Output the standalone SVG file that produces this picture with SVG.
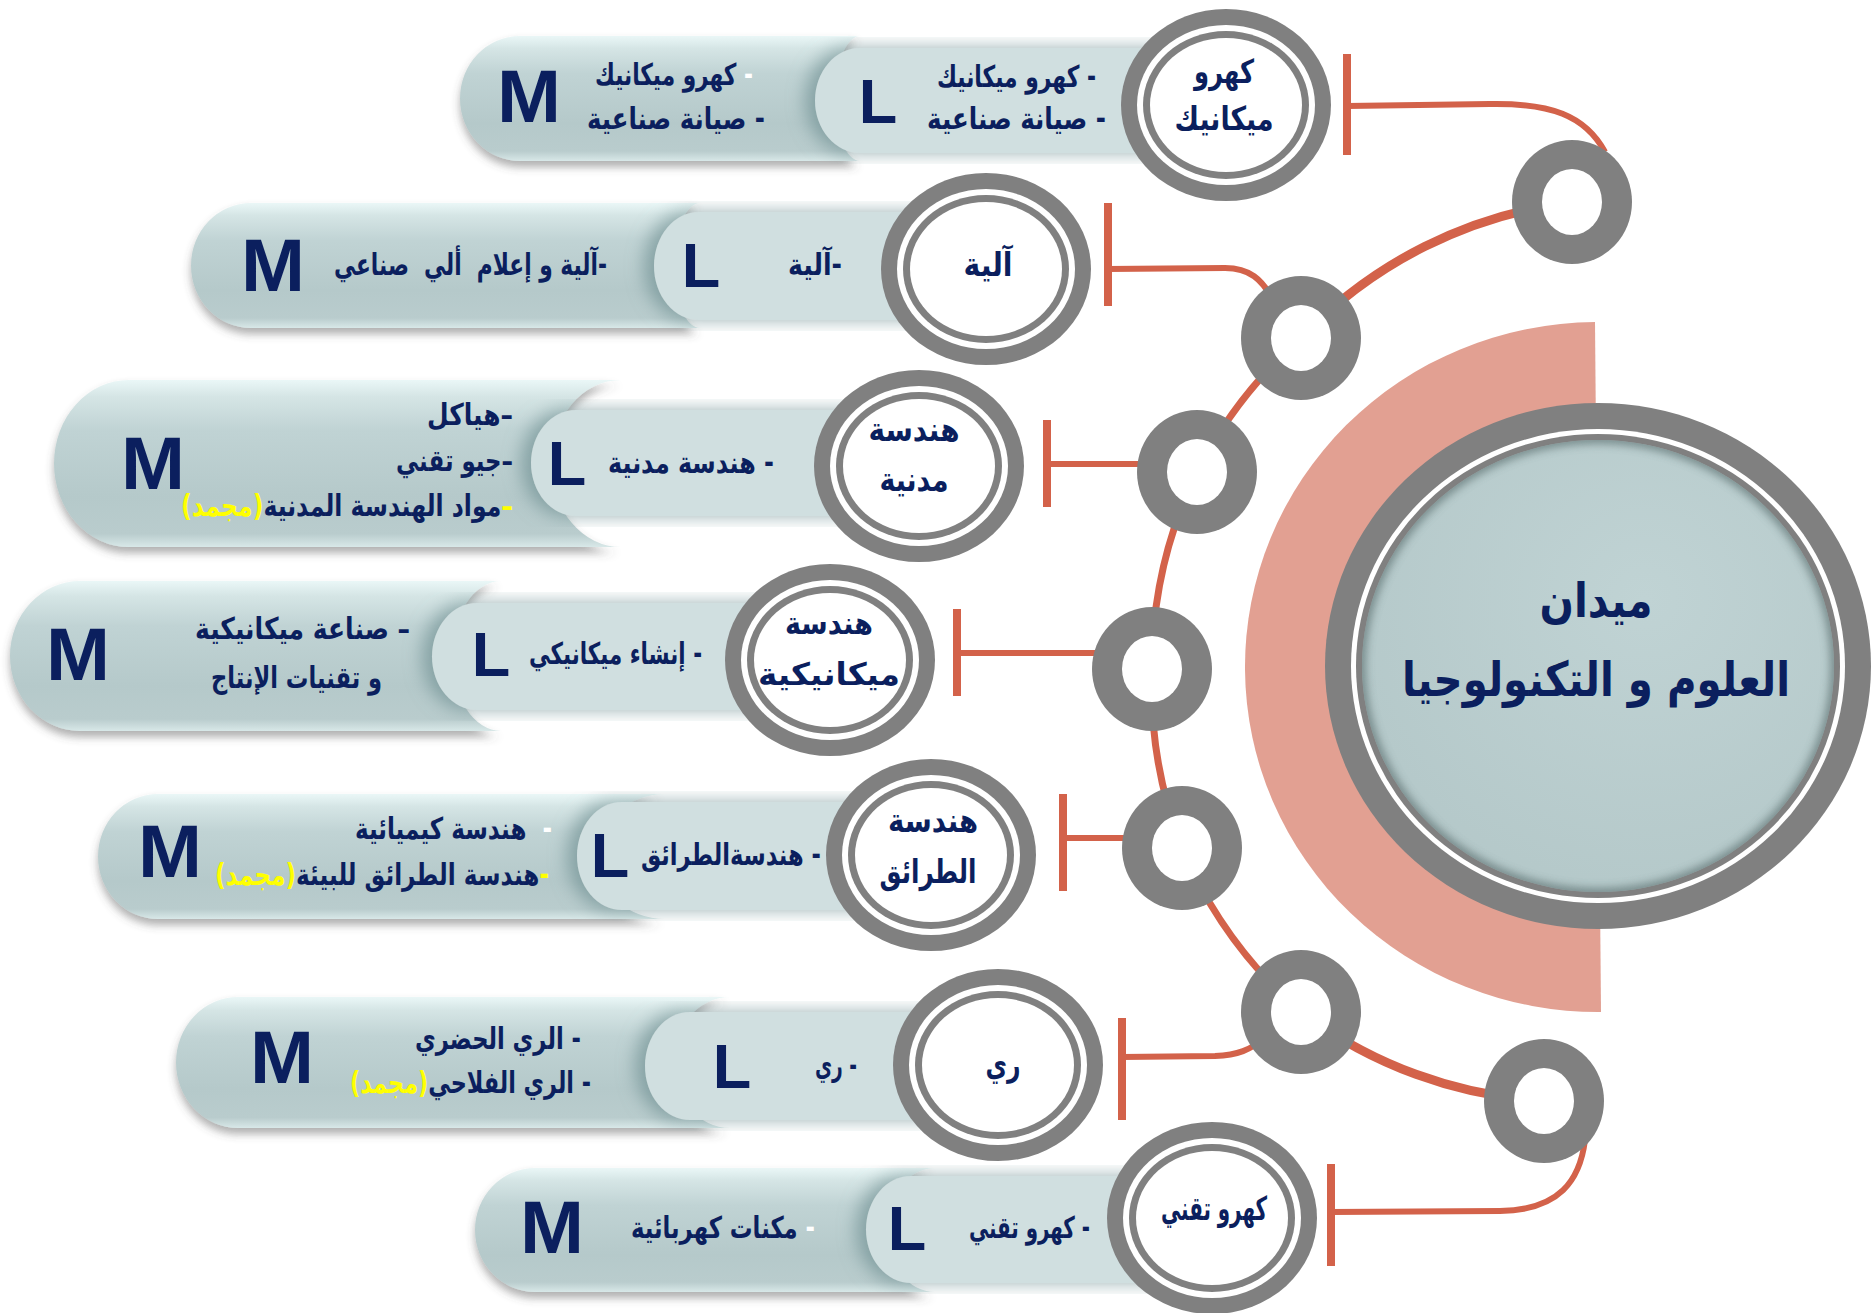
<svg xmlns="http://www.w3.org/2000/svg" width="1872" height="1313" viewBox="0 0 1872 1313">
<defs>
<style>
.t{font-family:"DejaVu Sans",sans-serif;font-weight:bold;fill:#0b1f5e}
.it{font-size:30px}
.cl{font-size:33px;text-anchor:middle}
.big{font-family:"Liberation Sans",Arial,sans-serif;font-weight:bold;fill:#0b1f5e;text-anchor:middle}
.mp{fill:url(#gM);filter:url(#fM)}
.lp{fill:#d0dfe0;filter:url(#fL)}
.g{fill:#808080}
.w{fill:#ffffff}
.bar{fill:#d3624a}
.con{fill:none;stroke:#d3624a;stroke-width:6}
.arc{fill:none;stroke:#d3624a}
.y{fill:#ffff00}
.wd{fill:#ffffff}
</style>
<linearGradient id="gM" x1="0" y1="0" x2="0" y2="1">
<stop offset="0" stop-color="#eaf7f7"/>
<stop offset="0.1" stop-color="#d5e5e5"/>
<stop offset="0.3" stop-color="#c0d3d4"/>
<stop offset="0.7" stop-color="#b5c9ca"/>
<stop offset="0.92" stop-color="#b9cccd"/>
<stop offset="1" stop-color="#d8e8e8"/>
</linearGradient>
<radialGradient id="gMain" cx="0.6" cy="0.35" r="0.7">
<stop offset="0" stop-color="#c0d3d4"/>
<stop offset="1" stop-color="#b4c8c9"/>
</radialGradient>
<filter id="fM" x="-5%" y="-20%" width="110%" height="150%"><feDropShadow dx="0" dy="6" stdDeviation="4" flood-color="#4d4d4d" flood-opacity="0.45"/></filter>
<filter id="fL" x="-20%" y="-10%" width="125%" height="120%"><feDropShadow dx="-10" dy="0" stdDeviation="9" flood-color="#6e8f91" flood-opacity="0.7"/></filter>
<filter id="blur"><feGaussianBlur stdDeviation="5"/></filter>
<clipPath id="cMain"><ellipse cx="1598" cy="666" rx="236" ry="226"/></clipPath>
</defs>

<!-- Row 1 -->
<g id="row1">
<path class="mp" d="M520,36 H860 A25,62.5 0 0 0 860,161 H520 A60,62.5 0 0 1 520,36 Z"/>
<path class="lp" d="M1226,48 H860 A45,52.5 0 0 0 860,153 H1226 Z"/>
<text class="big" x="529" y="122" font-size="74" textLength="64" lengthAdjust="spacingAndGlyphs">M</text>
<text class="t it" x="753" y="85" direction="rtl" text-anchor="start" textLength="158" lengthAdjust="spacingAndGlyphs"><tspan class="wd">-</tspan> كهرو ميكانيك</text>
<text class="t it" x="765" y="129" direction="rtl" text-anchor="start" textLength="178" lengthAdjust="spacingAndGlyphs">- صيانة صناعية</text>
<text class="big" x="878" y="123" font-size="63">L</text>
<text class="t it" x="1096" y="87" direction="rtl" text-anchor="start" textLength="159" lengthAdjust="spacingAndGlyphs">- كهرو ميكانيك</text>
<text class="t it" x="1106" y="129" direction="rtl" text-anchor="start" textLength="179" lengthAdjust="spacingAndGlyphs">- صيانة صناعية</text>
</g>

<!-- Row 2 -->
<g id="row2">
<path class="mp" d="M251,203 H700 A26,62.5 0 0 0 700,328 H251 A60,62.5 0 0 1 251,203 Z"/>
<path class="lp" d="M986,212 H699 A45,54 0 0 0 699,320 H986 Z"/>
<text class="big" x="273" y="291" font-size="74" textLength="64" lengthAdjust="spacingAndGlyphs">M</text>
<text class="t it" x="607" y="275" direction="rtl" text-anchor="start" xml:space="preserve" textLength="273" lengthAdjust="spacingAndGlyphs">-آلية و إعلام  ألي  صناعي</text>
<text class="big" x="701" y="287" font-size="63">L</text>
<text class="t it" x="842" y="275" direction="rtl" text-anchor="start" textLength="54" lengthAdjust="spacingAndGlyphs">-آلية</text>
</g>

<!-- Row 3 -->
<g id="row3">
<path class="mp" d="M129,380 H621 A70,83.5 0 0 0 621,547 H129 A75,83.5 0 0 1 129,380 Z"/>
<path class="lp" d="M919,410 H576 A45,53 0 0 0 576,516 H919 Z"/>
<text class="big" x="153" y="489" font-size="74" textLength="64" lengthAdjust="spacingAndGlyphs">M</text>
<text class="t it" x="513" y="425" direction="rtl" text-anchor="start" textLength="86" lengthAdjust="spacingAndGlyphs">–هياكل</text>
<text class="t it" x="513" y="471" direction="rtl" text-anchor="start" textLength="117" lengthAdjust="spacingAndGlyphs">–جيو تقني</text>
<text class="t it" x="513" y="516" direction="rtl" text-anchor="start" textLength="332" lengthAdjust="spacingAndGlyphs"><tspan class="y">–</tspan>مواد الهندسة المدنية<tspan class="y">(مجمد)</tspan></text>
<text class="big" x="567" y="485" font-size="63">L</text>
<text class="t it" x="774" y="473" direction="rtl" text-anchor="start" textLength="166" lengthAdjust="spacingAndGlyphs">- هندسة مدنية</text>
</g>

<!-- Row 4 -->
<g id="row4">
<path class="mp" d="M80,581 H501 A49,75 0 0 0 501,731 H80 A70,75 0 0 1 80,581 Z"/>
<path class="lp" d="M830,603 H477 A45,53.5 0 0 0 477,710 H830 Z"/>
<text class="big" x="78" y="680" font-size="74" textLength="64" lengthAdjust="spacingAndGlyphs">M</text>
<text class="t it" x="410" y="639" direction="rtl" text-anchor="start" textLength="215" lengthAdjust="spacingAndGlyphs">– صناعة ميكانيكية</text>
<text class="t it" x="382" y="688" direction="rtl" text-anchor="start" textLength="171" lengthAdjust="spacingAndGlyphs">و تقنيات الإنتاج</text>
<text class="big" x="491" y="676" font-size="63">L</text>
<text class="t it" x="702" y="664" direction="rtl" text-anchor="start" textLength="173" lengthAdjust="spacingAndGlyphs">- إنشاء ميكانيكي</text>
</g>

<!-- Row 5 -->
<g id="row5">
<path class="mp" d="M158,794 H665 A68,62.5 0 0 0 665,919 H158 A60,62.5 0 0 1 158,794 Z"/>
<path class="lp" d="M931,802 H622 A45,54 0 0 0 622,910 H931 Z"/>
<text class="big" x="170" y="877" font-size="74" textLength="64" lengthAdjust="spacingAndGlyphs">M</text>
<text class="t it" x="552" y="839" direction="rtl" text-anchor="start" xml:space="preserve" textLength="197" lengthAdjust="spacingAndGlyphs"><tspan class="wd">-</tspan>  هندسة كيميائية</text>
<text class="t it" x="549" y="885" direction="rtl" text-anchor="start" textLength="334" lengthAdjust="spacingAndGlyphs"><tspan class="y">-</tspan>هندسة الطرائق للبيئة<tspan class="y">(مجمد)</tspan></text>
<text class="big" x="610" y="877" font-size="63">L</text>
<text class="t it" x="821" y="865" direction="rtl" text-anchor="start" textLength="180" lengthAdjust="spacingAndGlyphs">- هندسةالطرائق</text>
</g>

<!-- Row 6 -->
<g id="row6">
<path class="mp" d="M238,997 H730 A57,65.5 0 0 0 730,1128 H238 A62,65.5 0 0 1 238,997 Z"/>
<path class="lp" d="M998,1012 H690 A45,54 0 0 0 690,1120 H998 Z"/>
<text class="big" x="282" y="1083" font-size="74" textLength="64" lengthAdjust="spacingAndGlyphs">M</text>
<text class="t it" x="581" y="1049" direction="rtl" text-anchor="start" textLength="166" lengthAdjust="spacingAndGlyphs">- الري الحضري</text>
<text class="t it" x="591" y="1093" direction="rtl" text-anchor="start" textLength="241" lengthAdjust="spacingAndGlyphs">- الري الفلاحي<tspan class="y">(مجمد)</tspan></text>
<text class="big" x="732" y="1088" font-size="63">L</text>
<text class="t it" x="857" y="1076" direction="rtl" text-anchor="start" textLength="42" lengthAdjust="spacingAndGlyphs">- ري</text>
</g>

<!-- Row 7 -->
<g id="row7">
<path class="mp" d="M535,1168 H935 A49,62 0 0 0 935,1292 H535 A60,62 0 0 1 535,1168 Z"/>
<path class="lp" d="M1212,1176 H911 A45,53.5 0 0 0 911,1283 H1212 Z"/>
<text class="big" x="552" y="1253" font-size="74" textLength="64" lengthAdjust="spacingAndGlyphs">M</text>
<text class="t it" x="815" y="1238" direction="rtl" text-anchor="start" textLength="184" lengthAdjust="spacingAndGlyphs"><tspan class="wd">-</tspan> مكنات كهربائية</text>
<text class="big" x="907" y="1250" font-size="63">L</text>
<text class="t it" x="1090" y="1238" direction="rtl" text-anchor="start" textLength="121" lengthAdjust="spacingAndGlyphs">- كهرو تقني</text>
</g>

<!-- Labeled circles -->
<g id="n1">
<ellipse class="g" cx="1226" cy="105" rx="105" ry="96"/><ellipse class="w" cx="1226" cy="105" rx="89" ry="80"/><ellipse class="g" cx="1226" cy="105" rx="83" ry="74"/><ellipse class="w" cx="1226" cy="105" rx="76" ry="67"/>
<text class="t cl" x="1224" y="83" direction="rtl" textLength="60" lengthAdjust="spacingAndGlyphs">كهرو</text>
<text class="t cl" x="1224" y="130" direction="rtl" textLength="99" lengthAdjust="spacingAndGlyphs">ميكانيك</text>
</g>
<g id="n2">
<ellipse class="g" cx="986" cy="269" rx="105" ry="96"/><ellipse class="w" cx="986" cy="269" rx="89" ry="80"/><ellipse class="g" cx="986" cy="269" rx="83" ry="74"/><ellipse class="w" cx="986" cy="269" rx="76" ry="67"/>
<text class="t cl" x="988" y="276" direction="rtl" textLength="49" lengthAdjust="spacingAndGlyphs">آلية</text>
</g>
<g id="n3">
<ellipse class="g" cx="919" cy="466" rx="105" ry="96"/><ellipse class="w" cx="919" cy="466" rx="89" ry="80"/><ellipse class="g" cx="919" cy="466" rx="83" ry="74"/><ellipse class="w" cx="919" cy="466" rx="76" ry="67"/>
<text class="t cl" x="914" y="441" direction="rtl" textLength="91" lengthAdjust="spacingAndGlyphs">هندسة</text>
<text class="t cl" x="914" y="491" direction="rtl" textLength="69" lengthAdjust="spacingAndGlyphs">مدنية</text>
</g>
<g id="n4">
<ellipse class="g" cx="830" cy="660" rx="105" ry="96"/><ellipse class="w" cx="830" cy="660" rx="89" ry="80"/><ellipse class="g" cx="830" cy="660" rx="83" ry="74"/><ellipse class="w" cx="830" cy="660" rx="76" ry="67"/>
<text class="t" x="829" y="634" font-size="31" text-anchor="middle" direction="rtl" textLength="88" lengthAdjust="spacingAndGlyphs">هندسة</text>
<text class="t" x="829" y="685" font-size="31" text-anchor="middle" direction="rtl" textLength="142" lengthAdjust="spacingAndGlyphs">ميكانيكية</text>
</g>
<g id="n5">
<ellipse class="g" cx="931" cy="855" rx="105" ry="96"/><ellipse class="w" cx="931" cy="855" rx="89" ry="80"/><ellipse class="g" cx="931" cy="855" rx="83" ry="74"/><ellipse class="w" cx="931" cy="855" rx="76" ry="67"/>
<text class="t cl" x="933" y="832" direction="rtl" textLength="90" lengthAdjust="spacingAndGlyphs">هندسة</text>
<text class="t cl" x="928" y="883" direction="rtl" textLength="97" lengthAdjust="spacingAndGlyphs">الطرائق</text>
</g>
<g id="n6">
<ellipse class="g" cx="998" cy="1065" rx="105" ry="96"/><ellipse class="w" cx="998" cy="1065" rx="89" ry="80"/><ellipse class="g" cx="998" cy="1065" rx="83" ry="74"/><ellipse class="w" cx="998" cy="1065" rx="76" ry="67"/>
<text class="t cl" x="1003" y="1076" direction="rtl" textLength="35" lengthAdjust="spacingAndGlyphs">ري</text>
</g>
<g id="n7">
<ellipse class="g" cx="1212" cy="1218" rx="105" ry="96"/><ellipse class="w" cx="1212" cy="1218" rx="89" ry="80"/><ellipse class="g" cx="1212" cy="1218" rx="83" ry="74"/><ellipse class="w" cx="1212" cy="1218" rx="76" ry="67"/>
<text class="t cl" x="1214" y="1220" direction="rtl" textLength="106" lengthAdjust="spacingAndGlyphs">كهرو تقني</text>
</g>

<!-- Central node with pink half-disk -->
<g id="center">
<path fill="#e2a092" d="M1595,322 A353,345 0 0 0 1601,1012 Z"/>
<ellipse class="g" cx="1598" cy="666" rx="273" ry="263"/>
<ellipse class="w" cx="1598" cy="666" rx="247" ry="237"/>
<ellipse class="g" cx="1598" cy="666" rx="242" ry="232"/>
<ellipse fill="url(#gMain)" cx="1598" cy="666" rx="236" ry="226"/>
<g clip-path="url(#cMain)">
<ellipse cx="1598" cy="666" rx="238" ry="228" fill="none" stroke="#4f6364" stroke-width="10" filter="url(#blur)" opacity="0.7"/>
</g>
<text class="t" x="1596" y="617" font-size="48" text-anchor="middle" direction="rtl" textLength="113" lengthAdjust="spacingAndGlyphs">ميدان</text>
<text class="t" x="1596" y="696" font-size="48" text-anchor="middle" direction="rtl" textLength="388" lengthAdjust="spacingAndGlyphs">العلوم و التكنولوجيا</text>
</g>

<!-- Connectors -->
<g id="connectors">
<path class="arc" stroke-width="9" d="M1572,202 A450,450 0 0 0 1301,338"/>
<path class="arc" stroke-width="7" d="M1301,338 A450,450 0 0 0 1197,472 A450,450 0 0 0 1152,669 A450,450 0 0 0 1182,848 A450,450 0 0 0 1301,1012"/>
<path class="arc" stroke-width="9" d="M1301,1012 A450,450 0 0 0 1544,1101"/>
<path class="con" d="M1347,106 L1490,104 C1550,103 1585,115 1605,152"/>
<path class="con" d="M1108,269 L1225,268 C1250,268 1262,280 1272,298"/>
<path class="con" d="M1047,464 H1150"/>
<path class="con" d="M957,653 H1100"/>
<path class="con" d="M1063,838 H1130"/>
<path class="con" d="M1122,1057 L1215,1056 C1238,1055 1250,1050 1265,1038"/>
<path class="con" d="M1331,1212 L1500,1211 C1560,1210 1580,1180 1585,1140"/>
<rect class="bar" x="1343" y="54" width="8" height="101"/>
<rect class="bar" x="1104" y="203" width="8" height="103"/>
<rect class="bar" x="1043" y="420" width="8" height="87"/>
<rect class="bar" x="953" y="609" width="8" height="87"/>
<rect class="bar" x="1059" y="794" width="8" height="97"/>
<rect class="bar" x="1118" y="1018" width="8" height="102"/>
<rect class="bar" x="1327" y="1164" width="8" height="102"/>
</g>

<!-- Small ring nodes on the arc -->
<g id="k1"><ellipse class="g" cx="1572" cy="202" rx="60" ry="62"/><ellipse class="w" cx="1572" cy="202" rx="30" ry="33"/></g>
<g id="k2"><ellipse class="g" cx="1301" cy="338" rx="60" ry="62"/><ellipse class="w" cx="1301" cy="338" rx="30" ry="33"/></g>
<g id="k3"><ellipse class="g" cx="1197" cy="472" rx="60" ry="62"/><ellipse class="w" cx="1197" cy="472" rx="30" ry="33"/></g>
<g id="k4"><ellipse class="g" cx="1152" cy="669" rx="60" ry="62"/><ellipse class="w" cx="1152" cy="669" rx="30" ry="33"/></g>
<g id="k5"><ellipse class="g" cx="1182" cy="848" rx="60" ry="62"/><ellipse class="w" cx="1182" cy="848" rx="30" ry="33"/></g>
<g id="k6"><ellipse class="g" cx="1301" cy="1012" rx="60" ry="62"/><ellipse class="w" cx="1301" cy="1012" rx="30" ry="33"/></g>
<g id="k7"><ellipse class="g" cx="1544" cy="1101" rx="60" ry="62"/><ellipse class="w" cx="1544" cy="1101" rx="30" ry="33"/></g>
</svg>
